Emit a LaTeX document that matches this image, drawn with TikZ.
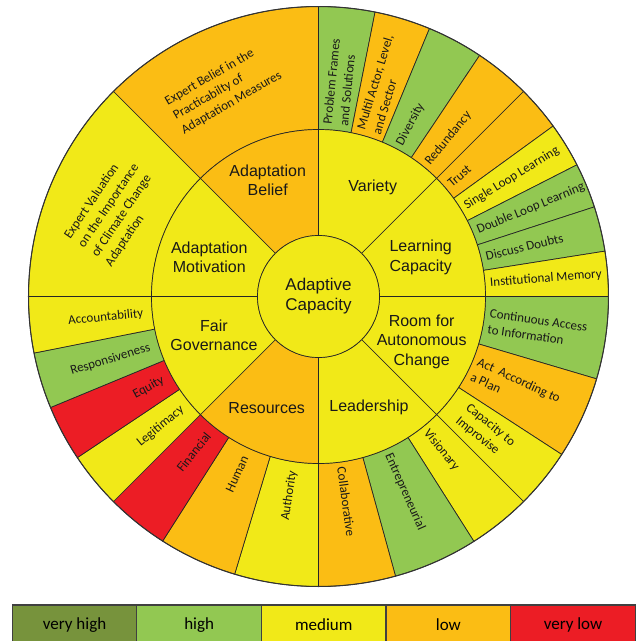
\documentclass[tikz,border=0pt]{standalone}
\usepackage{fontspec}
\setmainfont{Carlito}
\newfontfamily\arialfont{Liberation Sans}
\usetikzlibrary{positioning}

\definecolor{cyel}{RGB}{241,233,24}
\definecolor{corg}{RGB}{251,189,20}
\definecolor{cgrn}{RGB}{146,200,82}
\definecolor{cred}{RGB}{236,29,37}
\definecolor{cvgrn}{RGB}{119,147,60}

\tikzset{
  part/.style={draw=black!85, line width=0.7pt},
  outlbl/.style={font=\fontsize{13}{16.5}\selectfont, text=black!90, inner sep=0pt, align=left},
  midlbl/.style={font=\arialfont\fontsize{16}{19.4}\selectfont, text=black!90, inner sep=0pt, align=center},
  keybox/.style={draw=black!75, line width=1.2pt, minimum width=124.6pt, minimum height=40pt,
    inner sep=0pt, outer sep=0pt, font=\fontsize{17}{20}\selectfont}
}

% colour, start angle, end angle, inner radius, outer radius
\newcommand{\ringpart}[5]{%
  \filldraw[part, fill=#1] (#2:#4) arc[start angle=#2, end angle=#3, radius=#4]
    -- (#3:#5) arc[start angle=#3, end angle=#2, radius=#5] -- cycle;}

\begin{document}
\begin{tikzpicture}[x=1pt, y=1pt]
\useasboundingbox (-318.5,-344.5) rectangle (318.5,296.5);

%Adaptation Belief
\ringpart{corg}{90}{135}{167}{290}
%Adaptation Motivation
\ringpart{cyel}{135}{180}{167}{290}

%Variety
\ringpart{cgrn}{78.75}{90}{167}{290}
\ringpart{corg}{67.5}{78.75}{167}{290}
\ringpart{cgrn}{56.25}{67.5}{167}{290}
\ringpart{corg}{45}{56.25}{167}{290}

%Learning Capacity
\ringpart{corg}{36}{45}{167}{290}
\ringpart{cyel}{27}{36}{167}{290}
\ringpart{cgrn}{18}{27}{167}{290}
\ringpart{cgrn}{9}{18}{167}{290}
\ringpart{cyel}{0}{9}{167}{290}

%Room for Autonomous Change
\ringpart{cgrn}{-16.5}{0}{167}{290}
\ringpart{corg}{-33}{-16.5}{167}{290}
\ringpart{cyel}{-45}{-33}{167}{290}

%Leadership
\ringpart{cyel}{-57.6}{-45}{167}{290}
\ringpart{cgrn}{-74.6}{-57.6}{167}{290}
\ringpart{corg}{-90}{-74.6}{167}{290}

%Resources
\ringpart{cyel}{-106.8}{-90}{167}{290}
\ringpart{corg}{-122.5}{-106.8}{167}{290}
\ringpart{cred}{-135}{-122.5}{167}{290}

%Fair Governance
\ringpart{cyel}{-146.25}{-135}{167}{290}
\ringpart{cred}{-157.5}{-146.25}{167}{290}
\ringpart{cgrn}{-168.75}{-157.5}{167}{290}
\ringpart{cyel}{-180}{-168.75}{167}{290}

%dimensions
\ringpart{corg}{90}{135}{61}{167}
\ringpart{cyel}{135}{180}{61}{167}
\ringpart{cyel}{45}{90}{61}{167}
\ringpart{cyel}{0}{45}{61}{167}
\ringpart{cyel}{-45}{0}{61}{167}
\ringpart{cyel}{-90}{-45}{61}{167}
\ringpart{corg}{-135}{-90}{61}{167}
\ringpart{cyel}{-180}{-135}{61}{167}

%centre and rim
\filldraw[part, fill=cyel] (0,0) circle[radius=61];
\draw[draw=black!80, line width=1pt] (0,0) circle[radius=290];

\node[midlbl, font=\arialfont\fontsize{17}{20}\selectfont] (core) at (0,0) {Adaptive\\Capacity};
\node[midlbl] (belief) at (-50.8,116.5) {Adaptation\\Belief};
\node[midlbl] (variety) at (54.2,109.2) {Variety};
\node[midlbl] (learning) at (102.2,39.2) {Learning\\Capacity};
\node[midlbl] (room) at (103.2,-45.2) {Room for\\Autonomous\\Change};
\node[midlbl] (leadership) at (50.5,-110.8) {Leadership};
\node[midlbl] (resources) at (-51.8,-111.8) {Resources};
\node[midlbl] (fairgov) at (-104.5,-38.5) {Fair\\Governance};
\node[midlbl] (motivation) at (-109.2,39.2) {Adaptation\\Motivation};

%criteria, right half
\node[outlbl, anchor=west, rotate=84.375] (frames) at (84.375:172) {Problem Frames\\and Solutions};
\node[outlbl, anchor=west, rotate=73.125] (actor) at (73.125:172) {Multil Actor, Level,\\and Sector};
\node[outlbl, anchor=west, rotate=61.875] (diversity) at (61.875:172) {Diversity};
\node[outlbl, anchor=west, rotate=50.625] (redundancy) at (50.625:172) {Redundancy};
\node[outlbl, anchor=west, rotate=40.5] (trust) at (40.5:172) {Trust};
\node[outlbl, anchor=west, rotate=31.5] (single) at (31.5:172) {Single Loop Learning};
\node[outlbl, anchor=west, rotate=22.5] (double) at (22.5:172) {Double Loop Learning};
\node[outlbl, anchor=west, rotate=13.5] (doubts) at (13.5:172) {Discuss Doubts};
\node[outlbl, anchor=west, rotate=4.5] (memory) at (4.5:172) {Institutional Memory};
\node[outlbl, anchor=west, rotate=-8.25] (access) at (-8.25:172) {Continuous Access\\to Information};
\node[outlbl, anchor=west, rotate=-24.75] (plan) at (-24.75:172) {Act\ \ According to\\a Plan};
\node[outlbl, anchor=west, rotate=-39] (improvise) at (-39:185) {Capacity to\\Improvise};
\node[outlbl, anchor=west, rotate=-51.3] (visionary) at (-51.3:172) {Visionary};
\node[outlbl, anchor=west, rotate=-66.1] (entrepreneurial) at (-66.1:172) {Entrepreneurial};
\node[outlbl, anchor=west, rotate=-82.3] (collaborative) at (-82.3:172) {Collaborative};

%criteria, left half
\node[outlbl, anchor=east, rotate=81.6] (authority) at (-98.4:176) {Authority};
\node[outlbl, anchor=east, rotate=65.35] (human) at (-114.65:176) {Human};
\node[outlbl, anchor=east, rotate=51.25] (financial) at (-128.75:176) {Financial};
\node[outlbl, anchor=east, rotate=39.375] (legitimacy) at (-140.625:176) {Legitimacy};
\node[outlbl, anchor=east, rotate=28.125] (equity) at (-151.875:176) {Equity};
\node[outlbl, anchor=east, rotate=16.875] (responsive) at (-163.125:176) {Responsiveness};
\node[outlbl, anchor=east, rotate=5.625] (account) at (-174.375:176) {Accountability};
\node[outlbl, rotate=30] (practice) at (-95,208) {Expert Belief in the\\Practicabilty of\\Adaptation Measures};
\node[outlbl, rotate=56] (valuation) at (-203,86) {Expert Valuation\\on the Importance\\of Climate Change\\Adaptation};

%legend
\node[keybox, fill=cvgrn, anchor=north west] (vhigh) at (-306.2,-308.5) {very high};
\node[keybox, fill=cgrn, right=0pt of vhigh] (high) {high};
\node[keybox, fill=cyel, right=0pt of high] (medium) {medium};
\node[keybox, fill=corg, right=0pt of medium] (low) {low};
\node[keybox, fill=cred, right=0pt of low] (vlow) {very low};
\end{tikzpicture}
\end{document}
